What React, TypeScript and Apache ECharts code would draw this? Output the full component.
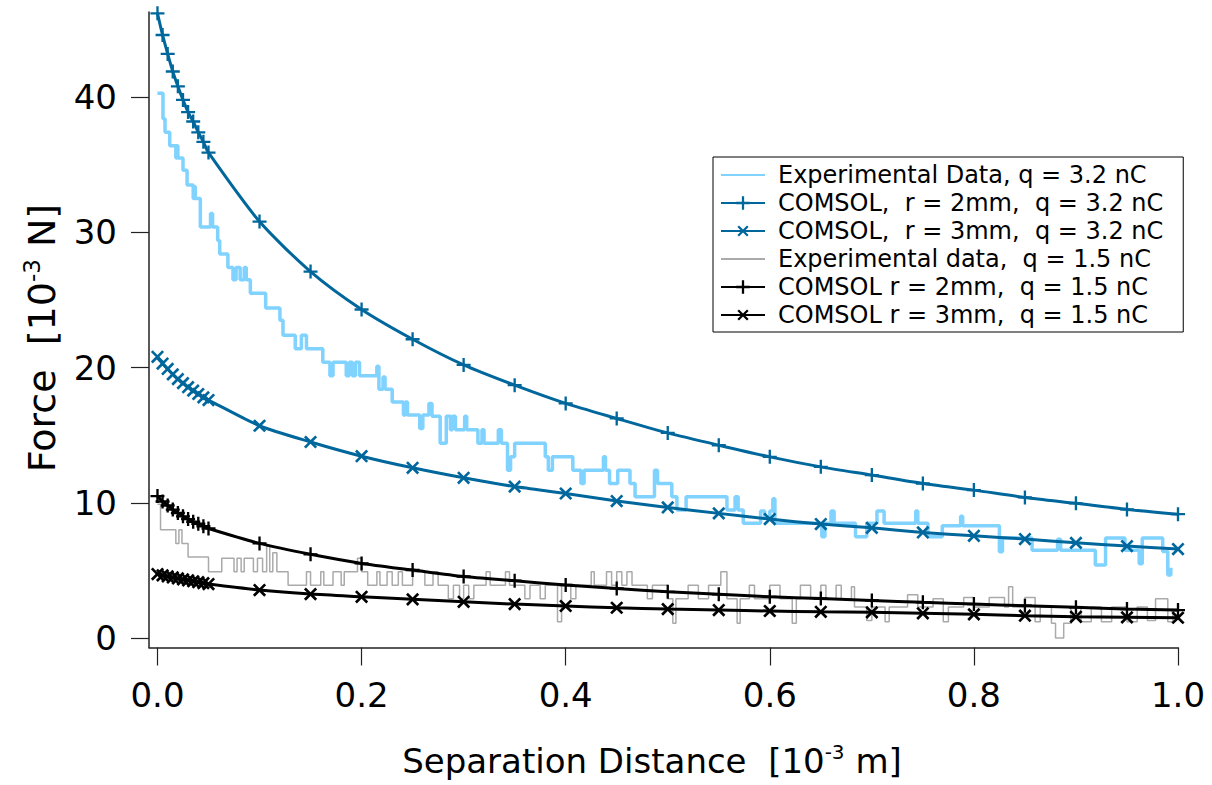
import React, { useEffect, useRef } from "react";
import * as echarts from "echarts";

const xTicks = [0, 0.2, 0.4, 0.6, 0.8, 1.0];
const yTicks = [0, 10, 20, 30, 40];

const comsolX = [
  0, 0.005, 0.01, 0.015, 0.02, 0.025, 0.03, 0.035, 0.04, 0.045, 0.05,
  0.1, 0.15, 0.2, 0.25, 0.3, 0.35, 0.4, 0.45, 0.5, 0.55, 0.6, 0.65, 0.7,
  0.75, 0.8, 0.85, 0.9, 0.95, 1.0,
];
const comsol2mm32 = [
  46.2, 44.6, 43.2, 41.9, 40.8, 39.8, 38.9, 38.2, 37.4, 36.7, 35.9,
  30.8, 27.1, 24.3, 22.1, 20.2, 18.7, 17.35, 16.24, 15.17, 14.26, 13.4, 12.66, 12.05,
  11.43, 10.94, 10.4, 9.96, 9.51, 9.16,
];
const comsol3mm32 = [
  20.8, 20.3, 19.9, 19.5, 19.15, 18.85, 18.55, 18.3, 18.05, 17.8, 17.6,
  15.7, 14.5, 13.45, 12.59, 11.85, 11.2, 10.69, 10.13, 9.66, 9.22, 8.8, 8.43, 8.15,
  7.81, 7.56, 7.32, 7.04, 6.8, 6.58,
];
const comsol2mm15 = [
  10.5, 10.1, 9.8, 9.5, 9.25, 9.0, 8.8, 8.6, 8.45, 8.27, 8.1,
  7.0, 6.19, 5.52, 5.03, 4.55, 4.24, 3.92, 3.67, 3.42, 3.23, 3.05, 2.92, 2.78,
  2.64, 2.51, 2.39, 2.27, 2.14, 2.07,
];
const comsol3mm15 = [
  4.73, 4.64, 4.56, 4.48, 4.41, 4.34, 4.27, 4.2, 4.13, 4.06, 3.99,
  3.55, 3.25, 3.05, 2.86, 2.68, 2.51, 2.37, 2.24, 2.14, 2.07, 2.0, 1.94, 1.9,
  1.83, 1.75, 1.65, 1.57, 1.53, 1.5,
];

// Experimental data q = 3.2 nC (step trace: x where level starts, level)
const exp32X = [
  0.0, 0.0054, 0.0074, 0.012, 0.018, 0.019, 0.02, 0.025, 0.029, 0.035, 0.036, 0.037,
  0.042, 0.052, 0.054, 0.059, 0.061, 0.069, 0.074, 0.077, 0.081, 0.085, 0.087, 0.091,
  0.106, 0.12, 0.123, 0.135, 0.141, 0.146, 0.162, 0.169, 0.172, 0.185, 0.188, 0.191,
  0.194, 0.198, 0.215, 0.217, 0.221, 0.223, 0.23, 0.241, 0.243, 0.245, 0.257, 0.26,
  0.266, 0.269, 0.277, 0.283, 0.287, 0.289, 0.292, 0.301, 0.303, 0.314, 0.318, 0.32,
  0.334, 0.337, 0.343, 0.346, 0.35, 0.38, 0.383, 0.387, 0.407, 0.415, 0.418, 0.437,
  0.439, 0.443, 0.451, 0.463, 0.468, 0.487, 0.49, 0.504, 0.509, 0.518, 0.558, 0.566,
  0.569, 0.574, 0.591, 0.595, 0.6, 0.603, 0.605, 0.651, 0.654, 0.66, 0.663, 0.684,
  0.695, 0.705, 0.712, 0.743, 0.745, 0.755, 0.769, 0.787, 0.789, 0.825, 0.828, 0.857,
  0.882, 0.885, 0.919, 0.929, 0.948, 0.962, 0.965, 0.985, 0.99, 0.993,
];
const exp32Y = [
  40.3, 38.4, 37.4, 36.4, 35.5, 36.4, 35.5, 34.6, 33.5, 32.5, 33.4, 32.5,
  30.4, 31.4, 30.4, 29.4, 28.4, 27.4, 26.5, 27.4, 26.5, 27.4, 26.5, 25.5,
  24.4, 23.5, 22.4, 21.4, 22.4, 21.4, 20.4, 19.4, 20.4, 19.4, 20.4, 19.4,
  20.4, 19.4, 20.1, 18.4, 19.3, 18.4, 17.46, 16.5, 17.46, 16.5, 15.5, 16.5,
  17.35, 16.4, 14.4, 16.4, 15.4, 16.4, 15.4, 16.4, 15.4, 14.4, 15.4, 14.4,
  15.4, 14.4, 12.4, 13.4, 14.4, 13.4, 12.4, 13.4, 12.4, 11.43, 12.4, 13.4,
  12.4, 11.43, 12.4, 11.43, 10.44, 12.4, 11.43, 10.44, 9.46, 10.44, 9.46, 10.44,
  9.46, 8.48, 9.4, 8.9, 9.4, 10.3, 8.48, 7.49, 8.48, 9.4, 8.48, 7.49,
  8.48, 9.4, 8.48, 9.4, 8.48, 7.49, 8.3, 9.0, 8.3, 6.38, 7.4, 6.5,
  7.3, 6.5, 5.4, 7.4, 6.5, 5.5, 7.4, 6.4, 4.66, 5.2,
];

// Experimental data q = 1.5 nC
const exp15X = [
  0.0, 0.003, 0.018, 0.021, 0.024, 0.03, 0.05, 0.063, 0.075, 0.078, 0.082, 0.085,
  0.094, 0.098, 0.103, 0.107, 0.11, 0.113, 0.117, 0.128, 0.146, 0.15, 0.16, 0.163,
  0.172, 0.18, 0.183, 0.196, 0.2, 0.206, 0.215, 0.218, 0.225, 0.23, 0.236, 0.24,
  0.25, 0.262, 0.27, 0.275, 0.285, 0.29, 0.296, 0.3, 0.305, 0.31, 0.322, 0.326,
  0.341, 0.345, 0.36, 0.365, 0.375, 0.38, 0.392, 0.396, 0.405, 0.41, 0.425, 0.428,
  0.44, 0.445, 0.45, 0.455, 0.46, 0.465, 0.48, 0.485, 0.5, 0.505, 0.508, 0.52,
  0.53, 0.54, 0.552, 0.558, 0.568, 0.571, 0.58, 0.585, 0.6, 0.61, 0.622, 0.626,
  0.63, 0.64, 0.65, 0.655, 0.665, 0.67, 0.68, 0.683, 0.695, 0.7, 0.713, 0.717,
  0.735, 0.745, 0.76, 0.77, 0.775, 0.79, 0.8, 0.815, 0.83, 0.834, 0.838, 0.85,
  0.86, 0.865, 0.876, 0.88, 0.888, 0.895, 0.905, 0.915, 0.925, 0.935, 0.95, 0.96,
  0.97, 0.978, 0.99, 0.995, 1.0,
];
const exp15Y = [
  9.9, 8.0, 7.0, 8.0, 7.0, 6.0, 4.9, 5.9, 4.9, 5.9, 4.9, 5.9,
  4.9, 5.9, 4.9, 6.8, 4.9, 6.3, 4.9, 3.9, 4.9, 3.9, 4.9, 3.9,
  4.9, 3.9, 4.9, 5.9, 4.9, 3.9, 4.9, 3.9, 4.9, 3.9, 4.9, 3.9,
  4.9, 3.9, 4.9, 3.9, 2.9, 3.9, 2.9, 3.9, 2.9, 3.9, 4.9, 3.9,
  4.9, 3.9, 2.9, 3.9, 2.9, 3.9, 1.2, 3.9, 2.9, 3.9, 4.9, 3.9,
  4.9, 3.9, 4.9, 3.9, 4.9, 3.9, 2.9, 3.9, 2.9, 1.1, 2.9, 3.9,
  2.9, 3.9, 4.9, 2.9, 1.1, 2.9, 3.9, 2.9, 3.9, 2.9, 1.1, 2.9,
  3.9, 2.9, 3.9, 2.9, 3.9, 2.9, 3.8, 2.3, 1.3, 2.3, 1.2, 2.3,
  3.2, 2.3, 2.9, 1.2, 2.3, 3.0, 2.3, 3.0, 2.3, 3.8, 2.3, 3.0,
  1.2, 2.3, 1.1, 0.0, 1.1, 2.3, 1.2, 2.3, 1.2, 2.3, 1.2, 2.3,
  1.3, 2.9, 1.2, 2.0, 2.0,
];

const legendNames = [
  "Experimental Data, q = 3.2 nC",
  "COMSOL,  r = 2mm,  q = 3.2 nC",
  "COMSOL,  r = 3mm,  q = 3.2 nC",
  "Experimental data,  q = 1.5 nC",
  "COMSOL r = 2mm,  q = 1.5 nC",
  "COMSOL r = 3mm,  q = 1.5 nC",
];

const LIGHT = "#80d2ff";
const DARK = "#00679c";
const GRAY = "#aaaaaa";
const BLACK = "#000000";
const FONT = "DejaVu Sans";

export default function App() {
  const ref = useRef<HTMLDivElement>(null);
  useEffect(() => {
    const chart = echarts.init(ref.current!, null, { renderer: "svg" });
    const pair = (xs: number[], ys: number[]) => xs.map((x, i) => [x, ys[i]]);
    const plus =
      "path://M-1,-6L1,-6L1,-1L6,-1L6,1L1,1L1,6L-1,6L-1,1L-6,1L-6,-1L-1,-1Z";
    const comsol = (name: string, ys: number[], color: string, cross: boolean) => ({
      name,
      type: "line",
      data: pair(comsolX, ys),
      symbol: plus,
      symbolSize: cross ? 16 : 14,
      symbolRotate: cross ? 45 : 0,
      showAllSymbol: true,
      smooth: 0.25,
      lineStyle: { color, width: 3 },
      itemStyle: { color, borderWidth: 0 },
      z: 3,
      clip: false,
    });
    const experimental = (name: string, xs: number[], ys: number[], color: string, width: number) => ({
      name,
      type: "line",
      data: pair(xs, ys),
      step: "end",
      symbol: "circle",
      showSymbol: false,
      lineStyle: { color, width },
      itemStyle: { color, opacity: 0 },
      z: 1,
    });
    const axisColor = "#222";
    const titleRich = (size: number) => ({
      a: { fontSize: size, fontFamily: FONT, fill: "#000" },
      s: { fontSize: Math.round(size * 0.6), fontFamily: FONT, fill: "#000", padding: [0, 0, Math.round(size * 0.53), 0] },
    });
    chart.setOption({
      animation: false,
      backgroundColor: "#ffffff",
      grid: { left: 149, right: 34, top: 12, bottom: 137.5 },
      xAxis: {
        type: "value",
        min: -0.0083,
        max: 1.0,
        splitLine: { show: false },
        axisLine: { onZero: false, lineStyle: { color: axisColor, width: 1.5 } },
        axisTick: {
          inside: false,
          length: 18,
          customValues: xTicks,
          lineStyle: { color: axisColor, width: 1.2 },
        },
        axisLabel: {
          customValues: xTicks,
          formatter: (v: number) => v.toFixed(1),
          fontSize: 34,
          fontFamily: FONT,
          color: "#000",
          margin: 30,
        },
      },
      yAxis: {
        type: "value",
        min: -0.7,
        max: 46.3,
        splitLine: { show: false },
        axisLine: { onZero: false, lineStyle: { color: axisColor, width: 1.5 } },
        axisTick: {
          inside: false,
          length: 18,
          customValues: yTicks,
          lineStyle: { color: axisColor, width: 1.2 },
        },
        axisLabel: {
          customValues: yTicks,
          fontSize: 34,
          fontFamily: FONT,
          color: "#000",
          margin: 32,
        },
      },
      legend: {
        orient: "vertical",
        left: 713,
        top: 157,
        padding: [4, 20, 3, 7],
        itemGap: 0,
        itemWidth: 44,
        itemHeight: 17,
        borderColor: "#000",
        borderWidth: 1,
        borderRadius: 0,
        backgroundColor: "#fff",
        textStyle: {
          fontFamily: FONT,
          fontSize: 24,
          color: "#000",
          lineHeight: 28,
          padding: [0, 0, 0, 8],
        },
        data: legendNames,
      },
      graphic: [
        {
          type: "text",
          x: 652,
          y: 761,
          style: {
            text: "{a|Separation Distance  [10}{s|-3}{a| m]}",
            align: "center",
            verticalAlign: "middle",
            rich: titleRich(34),
          },
        },
        {
          type: "text",
          x: 42,
          y: 338,
          rotation: Math.PI / 2,
          style: {
            text: "{a|Force  [10}{s|-3}{a| N]}",
            align: "center",
            verticalAlign: "middle",
            rich: titleRich(38),
          },
        },
      ],
      series: [
        experimental(legendNames[0], exp32X, exp32Y, LIGHT, 3.5),
        comsol(legendNames[1], comsol2mm32, DARK, false),
        comsol(legendNames[2], comsol3mm32, DARK, true),
        experimental(legendNames[3], exp15X, exp15Y, GRAY, 1.5),
        comsol(legendNames[4], comsol2mm15, BLACK, false),
        comsol(legendNames[5], comsol3mm15, BLACK, true),
      ],
    });
    return () => chart.dispose();
  }, []);
  return (
    <div
      ref={ref}
      style={{ position: "absolute", left: 0, top: 0, width: 1212, height: 785 }}
    />
  );
}
